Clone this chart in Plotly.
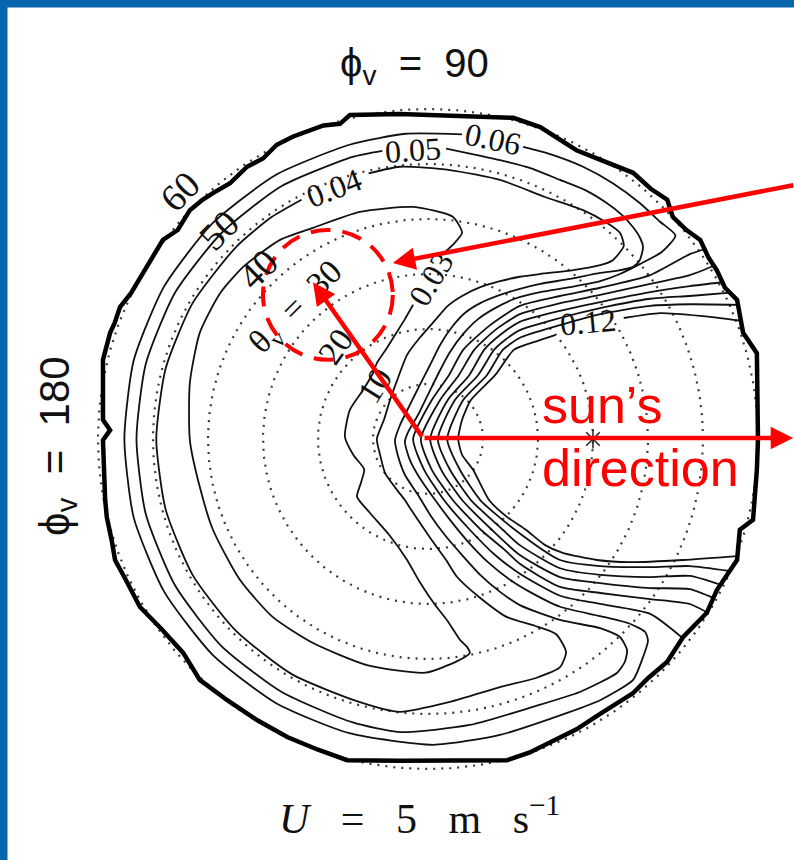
import numpy as np
import plotly.graph_objects as go

# ---- polar grid: view-zenith rings (deg) and their labels ----
ring_theta = [10, 20, 30, 40, 50, 60]
ring_labels = ["10", "20", "θ<sub>v</sub>  =  30", "40", "50", "60"]
label_azimuth = 135          # rings are labelled along this view azimuth (deg)

# specular (sun) direction
sun_theta = 30
sun_phi = 0

# ---- contour lines, projected coordinates (θv·cosφv, θv·sinφv) in degrees ----
contour_003 = [(3.1, 34.0), (4.5, 35.3), (6.2, 37.5), (4.5, 40.4), (-2.7, 42.2), (-12.4, 41.3),
               (-20.9, 38.4), (-26.9, 36.2), (-33.6, 31.3), (-37.8, 26.5), (-41.5, 19.3),
               (-43.3, 10.2), (-43.3, -0.2), (-41.5, -8.7), (-39.1, -16.5), (-34.2, -25.6),
               (-28.2, -32.4), (-20.9, -37.1), (-11.1, -41.1), (-0.5, -42.5), (5.3, -40.4),
               (7.6, -38.9), (7.1, -37.8), (5.8, -36.5), (3.5, -33.0), (1.3, -30.2), (-1.5, -26.0),
               (-3.8, -22.0), (-7.0, -17.5), (-10.5, -13.5), (-12.9, -10.5), (-12.2, -8.0),
               (-11.6, -5.5), (-13.5, -3.0), (-15.1, 0.4), (-14.2, 5.3), (-11.8, 8.9),
               (-10.0, 12.0), (-9.3, 13.8), (-7.5, 16.5), (-6.0, 18.9), (-4.2, 21.8), (-2.7, 24.4)]

contour_004 = [(-10.8, 48.3), (-5.1, 49.5), (4.0, 48.9), (13.1, 47.1), (21.3, 44.0), (28.2, 41.6),
               (32.2, 39.5), (34.9, 37.5), (35.6, 35.1), (33.6, 32.5), (31.3, 31.6), (26.4, 30.7),
               (20.4, 30.0), (16.7, 29.5), (13.1, 28.7), (9.5, 27.6), (6.2, 26.0), (3.6, 24.2),
               (1.3, 21.6), (-1.5, 18.4), (-3.8, 15.3), (-5.6, 10.7), (-6.9, 7.1), (-8.0, 3.5),
               (-9.3, 0.0), (-8.7, -2.9), (-7.8, -6.2), (-5.6, -9.3), (-4.2, -11.1), (-3.3, -12.5),
               (0.7, -18.4), (3.3, -22.0), (5.3, -25.1), (9.5, -28.9), (14.4, -32.4), (19.5, -34.0),
               (23.3, -35.5), (25.1, -38.7), (24.0, -41.5), (19.5, -43.5), (13.1, -45.1),
               (4.0, -47.8), (-5.1, -49.6), (-12.8, -47.7), (-24.7, -42.8), (-34.9, -34.9),
               (-42.8, -24.7), (-47.7, -12.8), (-49.4, 0.0), (-47.7, 12.8), (-42.8, 24.7),
               (-34.9, 34.9), (-28.5, 40.3), (-23.0, 43.5)]

contour_005 = [(3.3, 52.8), (13.1, 50.7), (18.5, 49.3), (24.0, 47.1), (28.5, 45.3), (32.5, 42.9),
               (35.3, 40.7), (37.3, 38.5), (38.6, 36.5), (39.1, 34.9), (38.5, 32.5), (37.3, 31.3),
               (34.5, 30.6), (31.3, 30.2), (25.8, 29.1), (20.4, 28.2), (16.7, 27.3), (13.1, 26.2),
               (9.5, 24.7), (6.7, 22.9), (4.4, 20.4), (2.2, 17.1), (0.4, 13.5), (-1.5, 9.8),
               (-3.3, 6.2), (-5.1, 2.5), (-6.0, -0.2), (-5.5, -2.9), (-4.2, -6.5), (-1.8, -10.2),
               (0.4, -13.8), (3.1, -17.5), (6.2, -21.1), (9.5, -24.7), (13.1, -27.8), (16.7, -30.2),
               (24.0, -32.9), (31.3, -34.4), (34.9, -36.0), (36.2, -38.4), (35.8, -40.5),
               (34.4, -42.5), (27.6, -46.0), (19.1, -48.7), (7.6, -52.0), (-5.1, -53.3),
               (-13.8, -51.5), (-26.6, -46.0), (-37.6, -37.6), (-46.0, -26.6), (-51.3, -13.7),
               (-53.0, 0.0), (-51.3, 13.7), (-46.0, 26.6), (-37.5, 37.5), (-26.6, 46.0),
               (-13.7, 51.3), (-8.3, 52.4)]

contour_006 = [(17.3, 53.1), (22.2, 51.8), (28.2, 49.5), (33.6, 46.5), (38.5, 42.9), (42.2, 39.5),
               (45.0, 37.0), (42.5, 34.0), (38.5, 31.8), (34.9, 30.0), (31.3, 28.7), (25.8, 27.6),
               (20.4, 26.7), (15.8, 25.5), (12.2, 23.8), (9.1, 21.8), (6.4, 19.1), (4.0, 15.8),
               (2.2, 12.5), (0.4, 8.9), (-1.8, 4.4), (-3.6, 1.3), (-4.2, -0.5), (-3.3, -3.8),
               (-1.5, -7.1), (1.3, -11.1), (4.0, -14.7), (7.3, -18.7), (10.9, -22.4), (14.9, -25.6),
               (18.5, -27.8), (24.0, -30.5), (31.3, -32.2), (36.7, -33.6), (39.5, -35.1),
               (40.0, -36.7), (38.9, -40.2), (37.3, -43.8), (31.3, -47.5), (25.3, -49.8),
               (13.1, -53.8), (0.9, -55.6), (-14.3, -53.5), (-27.7, -48.0), (-39.2, -39.2),
               (-48.0, -27.7), (-53.5, -14.3), (-55.2, 0.0), (-53.5, 14.3), (-48.0, 27.7),
               (-39.2, 39.2), (-27.7, 48.0), (-14.3, 53.5), (-4.0, 55.5), (6.2, 55.4)]

contour_007 = [(50.3, 34.5), (47.6, 33.6), (40.4, 29.8), (31.3, 27.5), (24.0, 26.0), (16.7, 24.2),
               (11.3, 20.7), (6.4, 16.2), (3.8, 11.6), (0.7, 7.1), (-2.7, 0.0), (-0.7, -5.6),
               (2.9, -11.1), (7.6, -16.5), (12.2, -21.1), (16.7, -24.5), (24.0, -28.5),
               (31.3, -30.0), (40.4, -31.8), (46.3, -36.2)]

contour_008 = [(52.0, 31.5), (47.6, 29.8), (40.4, 28.2), (31.3, 26.2), (24.0, 24.7), (16.7, 22.7),
               (12.2, 19.8), (8.4, 16.2), (5.6, 11.6), (2.2, 7.1), (-1.3, 0.0), (0.7, -5.6),
               (4.5, -11.1), (9.6, -16.5), (14.0, -20.2), (16.7, -22.7), (24.0, -26.9),
               (31.3, -28.0), (40.4, -29.1), (47.6, -30.0), (50.7, -31.5)]

contour_009 = [(53.5, 28.5), (47.6, 27.8), (40.4, 26.7), (31.3, 24.9), (24.0, 23.3), (16.7, 21.3),
               (13.1, 18.9), (10.2, 16.2), (7.5, 11.6), (3.6, 7.1), (0.4, 0.0), (2.4, -5.6),
               (6.2, -11.1), (11.6, -16.5), (16.7, -21.1), (24.0, -25.1), (31.3, -26.2),
               (40.4, -27.1), (47.6, -27.3), (51.9, -28.9)]

contour_010 = [(55.0, 26.6), (47.6, 26.0), (40.4, 25.5), (31.3, 23.8), (24.0, 22.0), (16.7, 19.8),
               (14.0, 18.0), (12.0, 16.2), (9.1, 11.6), (4.9, 7.1), (1.8, 0.0), (4.0, -5.6),
               (7.8, -11.1), (13.6, -16.5), (16.7, -19.3), (24.0, -23.5), (31.3, -24.7),
               (40.4, -25.1), (47.6, -24.9), (53.2, -26.5)]

contour_011 = [(56.4, 24.4), (47.6, 24.5), (40.4, 24.2), (31.3, 22.7), (24.0, 20.7), (16.7, 18.4),
               (13.6, 16.2), (10.7, 11.6), (6.4, 7.1), (3.5, 0.0), (5.8, -5.6), (9.5, -11.1),
               (15.8, -16.5), (24.0, -22.0), (31.3, -23.1), (40.4, -23.3), (47.6, -23.1),
               (54.9, -24.0)]

contour_012 = [(57.0, 21.5), (49.5, 22.4), (42.2, 22.9), (35.6, 22.0), (None, None),
               (23.1, 18.9), (19.2, 17.6), (15.6, 16.2), (12.2, 11.6), (7.8, 7.1), (6.2, 3.5),
               (5.5, 0.0), (6.2, -2.9), (8.2, -5.6), (11.1, -11.1), (14.4, -14.2), (17.8, -16.5),
               (21.3, -19.3), (24.5, -20.7), (30.7, -22.0), (36.7, -22.4), (46.4, -22.0),
               (56.3, -21.3)]

contours = [contour_003, contour_004, contour_005, contour_006, contour_007,
            contour_008, contour_009, contour_010, contour_011, contour_012]

# inline contour labels: text, position, rotation
label_text = ["0.03", "0.04", "0.05", "0.06", "0.12"]
label_x = [0.5, -17.1, -2.7, 11.8, 29.1]
label_y = [29.1, 45.6, 52.6, 54.6, 21.3]
label_angle = [-59, -21, -4, 12, -5]

# outer edge of the valid data region (jagged)
data_edge = [(60.0, 0.0), (60.0, 7.1), (59.8, 15.6), (57.3, 19.3), (56.8, 22.0), (56.2, 25.3),
             (54.0, 27.5), (52.5, 30.7), (51.0, 33.0), (49.5, 36.2), (47.0, 38.0), (44.5, 40.4),
             (43.5, 43.5), (40.5, 45.5), (37.3, 48.4), (33.5, 49.8), (30.0, 51.3), (27.0, 52.5),
             (24.0, 54.4), (20.4, 56.7), (15.5, 58.4), (4.0, 58.9), (-5.1, 59.1), (-14.2, 58.9),
             (-16.0, 57.3), (-19.0, 57.0), (-22.0, 55.8), (-24.5, 55.0), (-27.5, 53.5),
             (-30.0, 51.0), (-32.9, 49.5), (-36.0, 46.5), (-39.1, 44.7), (-41.0, 43.5),
             (-43.3, 41.6), (-45.5, 38.0), (-48.2, 36.2), (-50.0, 33.0), (-51.8, 30.2),
             (-54.0, 26.5), (-56.0, 24.0), (-57.0, 21.0), (-57.8, 19.3), (-59.1, 14.4),
             (-59.1, 3.5), (-57.8, 1.6), (-59.1, -0.2), (-58.7, -11.1), (-58.4, -14.2),
             (-57.5, -18.5), (-56.9, -22.0), (-55.0, -25.5), (-52.4, -30.5), (-48.5, -34.5),
             (-44.5, -38.9), (-41.5, -43.8), (-36.5, -47.5), (-31.1, -51.1), (-25.6, -54.2),
             (-20.0, -56.5), (-14.7, -58.4), (-5.1, -58.5), (14.4, -58.4), (18.5, -57.0),
             (22.2, -55.1), (27.0, -52.8), (31.3, -50.0), (37.3, -46.2), (40.0, -43.5),
             (43.5, -40.5), (46.4, -36.0), (50.7, -31.6), (52.5, -27.5), (56.2, -22.0),
             (56.7, -16.5), (59.1, -14.7), (59.8, -5.6), (60.0, 0.0)]

SERIF = "Liberation Serif, Times New Roman, serif"
SANS = "Liberation Sans, Arial, sans-serif"
INK = "#111111"

fig = go.Figure()

# dotted view-zenith rings
phi = np.linspace(0, 2 * np.pi, 361)
for t in ring_theta:
    fig.add_trace(go.Scatter(x=t * np.cos(phi), y=t * np.sin(phi), mode="lines",
                             line=dict(color="#3a3a3a", width=2.2, dash="2px,6px"),
                             hoverinfo="skip"))

# contour lines
for c in contours:
    fig.add_trace(go.Scatter(x=[p[0] for p in c], y=[p[1] for p in c], mode="lines",
                             line=dict(color=INK, width=1.8, shape="spline", smoothing=0.6),
                             connectgaps=False, hoverinfo="skip"))

# edge of the data region
fig.add_trace(go.Scatter(x=[p[0] for p in data_edge], y=[p[1] for p in data_edge], mode="lines",
                         line=dict(color="black", width=4.5), hoverinfo="skip"))

# sun specular point
fig.add_trace(go.Scatter(x=[sun_theta * np.cos(np.radians(sun_phi))],
                         y=[sun_theta * np.sin(np.radians(sun_phi))], mode="markers",
                         marker=dict(symbol="asterisk-open", size=16, color="#222222",
                                     line=dict(width=1.5, color="#222222")),
                         hoverinfo="skip"))

annotations = []

# ring labels along the label azimuth
ring_label_angle = [-58, -55, -45, -45, -45, -45]
ring_label_size = [34, 34, 34, 38, 38, 38]
az = np.radians(label_azimuth)
for t, txt, ang, sz in zip(ring_theta, ring_labels, ring_label_angle, ring_label_size):
    r = t + 3.7
    annotations.append(dict(x=r * np.cos(az), y=r * np.sin(az), text=txt, showarrow=False,
                            textangle=ang, font=dict(family=SERIF, size=sz, color=INK)))

# contour labels
for txt, x, y, ang in zip(label_text, label_x, label_y, label_angle):
    annotations.append(dict(x=x, y=y, text=txt, showarrow=False, textangle=ang,
                            font=dict(family=SERIF, size=32, color=INK)))

# azimuth captions and wind speed
annotations.append(dict(x=-2.4, y=67.8, text="ϕ<sub>v</sub>  =  90", showarrow=False,
                        font=dict(family=SANS, size=40, color=INK)))
annotations.append(dict(x=-67.5, y=-1.3, text="ϕ<sub>v</sub>  =  180", showarrow=False,
                        textangle=-90, font=dict(family=SANS, size=42, color=INK)))
annotations.append(dict(x=-1.5, y=-68.5, text="<i>U</i>   =   5   m   s<sup>−1</sup>",
                        showarrow=False, font=dict(family=SERIF, size=42, color=INK)))

# red overlay: arrows and caption
RED = "#ff0000"
arrow = dict(showarrow=True, arrowhead=2, arrowsize=1, arrowwidth=4.5, arrowcolor=RED,
             text="", xref="x", yref="y", axref="x", ayref="y")
annotations.append(dict(arrow, x=-20.9, y=28.5, ax=-0.9, ay=0.2))
annotations.append(dict(arrow, x=66.4, y=0.2, ax=-0.9, ay=0.2))
annotations.append(dict(arrow, x=-6.4, y=32.0, ax=66.7, ay=46.2))
annotations.append(dict(x=20.4, y=6.2, text="sun’s", showarrow=False, xanchor="left",
                        font=dict(family=SANS, size=52, color=RED)))
annotations.append(dict(x=20.4, y=-5.3, text="direction", showarrow=False, xanchor="left",
                        font=dict(family=SANS, size=52, color=RED)))

shapes = [
    # dashed highlight round the θv = 30 label
    dict(type="circle", xref="x", yref="y", x0=-30.0, x1=-6.4, y0=14.4, y1=38.0,
         line=dict(color=RED, width=4, dash="20px,12px"), layer="above"),
    # slide frame
    dict(type="rect", xref="paper", yref="paper", x0=0, x1=7.5 / 794, y0=0, y1=1,
         fillcolor="#0866ae", line=dict(width=0), layer="above"),
    dict(type="rect", xref="paper", yref="paper", x0=0, x1=1, y0=1 - 7.5 / 860, y1=1,
         fillcolor="#0866ae", line=dict(width=0), layer="above"),
]

fig.update_layout(
    width=794, height=860, autosize=False,
    margin=dict(l=0, r=0, t=0, b=0, pad=0),
    paper_bgcolor="white", plot_bgcolor="white", showlegend=False,
    xaxis=dict(range=[-77.82, 66.55], visible=False, fixedrange=True),
    yaxis=dict(range=[-76.55, 79.82], visible=False, fixedrange=True),
    annotations=annotations, shapes=shapes,
)

fig.write_html("out.html")
